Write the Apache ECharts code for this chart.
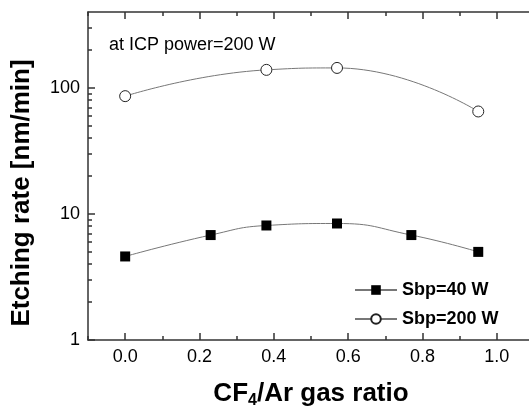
<!DOCTYPE html>
<html>
<head>
<meta charset="utf-8">
<script src="https://cdn.jsdelivr.net/npm/echarts@6/dist/echarts.min.js"></script>
<style>
  html, body { margin: 0; padding: 0; background: #fff; }
  #chart { width: 529px; height: 412px; }
</style>
</head>
<body>
<div id="chart"></div>
<script>
// values
const ratio40 = [0.0, 0.23, 0.38, 0.57, 0.77, 0.95];
const rate40 = [4.6, 6.8, 8.1, 8.4, 6.8, 5.0];
const ratio200 = [0.0, 0.38, 0.57, 0.95];
const rate200 = [86, 139, 144, 65];

const xMajor = [0.0, 0.2, 0.4, 0.6, 0.8, 1.0];
const xMinor = [-0.1, 0.1, 0.3, 0.5, 0.7, 0.9, 1.1];
const yMajor = [1, 10, 100];
const yMinor = [2, 3, 4, 5, 6, 7, 8, 9, 20, 30, 40, 50, 60, 70, 80, 90, 200, 300];

const font = "Liberation Sans, Arial, sans-serif";

const chart = echarts.init(document.getElementById("chart"), null, { renderer: "canvas" });

// one axis per tick set (major / minor), frame line only on the major ones
function xAx(pos, ticks, len, labels, line) {
  return {
    type: "value", position: pos, min: -0.1, max: 1.1,
    splitLine: { show: false },
    axisLine: { show: line, onZero: false, lineStyle: { color: "#333", width: 1.5 } },
    axisTick: { show: true, inside: true, length: len, customValues: ticks, lineStyle: { color: "#333", width: 1.5 } },
    axisLabel: labels
      ? { show: true, customValues: xMajor, margin: 8, color: "#000", fontSize: 18, fontFamily: font,
          formatter: (v) => v.toFixed(1) }
      : { show: false },
  };
}

function yAx(pos, ticks, len, labels, line) {
  return {
    type: "log", position: pos, min: 1, max: 400, logBase: 10,
    splitLine: { show: false },
    axisLine: { show: line, onZero: false, lineStyle: { color: "#333", width: 1.5 } },
    axisTick: { show: true, inside: true, length: len, customValues: ticks, lineStyle: { color: "#333", width: 1.5 } },
    axisLabel: labels
      ? { show: true, customValues: yMajor, margin: 8, color: "#000", fontSize: 18, fontFamily: font,
          formatter: (v) => String(Math.round(v)) }
      : { show: false },
  };
}

const xb = xAx("bottom", xMajor, 7, true, true);
xb.name = "{a|CF}{s|4}{a|/Ar gas ratio}";
xb.nameLocation = "middle";
xb.nameGap = 39;
xb.nameTextStyle = {
  rich: {
    a: { fontSize: 26, fontWeight: "bold", fontFamily: font, color: "#000" },
    s: { fontSize: 16, fontWeight: "bold", fontFamily: font, color: "#000", verticalAlign: "bottom", padding: [14, 0, 0, 0] },
  },
};

const yl = yAx("left", yMajor, 7, true, true);
yl.name = "Etching rate [nm/min]";
yl.nameLocation = "middle";
yl.nameGap = 53;
yl.nameTextStyle = { fontSize: 26, fontWeight: "bold", fontFamily: font, color: "#000", padding: [0, 34, 0, 0] };

chart.setOption({
  animation: false,
  grid: { left: 88, right: -5, top: 12, bottom: 72, outerBoundsMode: "none" },
  title: {
    text: "at ICP power=200 W", left: 104, top: 31,
    textStyle: { fontSize: 18, fontWeight: "normal", fontFamily: font, color: "#000" },
  },
  legend: {
    orient: "vertical", left: 349, top: 276, itemWidth: 42, itemHeight: 12, itemGap: 11,
    textStyle: { fontSize: 18, fontWeight: "bold", fontFamily: font, color: "#000" },
    data: ["Sbp=40 W", "Sbp=200 W"],
  },
  xAxis: [
    xb,
    xAx("bottom", xMinor, 4, false, false),
    xAx("top", xMajor, 7, false, true),
    xAx("top", xMinor, 4, false, false),
  ],
  yAxis: [
    yl,
    yAx("left", yMinor, 4, false, false),
  ],
  series: [
    {
      name: "Sbp=40 W", type: "line", smooth: 0.5,
      data: ratio40.map((x, i) => [x, rate40[i]]),
      symbol: "rect", symbolSize: 10,
      itemStyle: { color: "#000" },
      lineStyle: { color: "#777", width: 1 },
    },
    {
      name: "Sbp=200 W", type: "line", smooth: 0.5,
      data: ratio200.map((x, i) => [x, rate200[i]]),
      symbol: "circle", symbolSize: 11,
      itemStyle: { color: "#fff", borderColor: "#222", borderWidth: 1 },
      lineStyle: { color: "#777", width: 1 },
    },
  ],
});
</script>
</body>
</html>
